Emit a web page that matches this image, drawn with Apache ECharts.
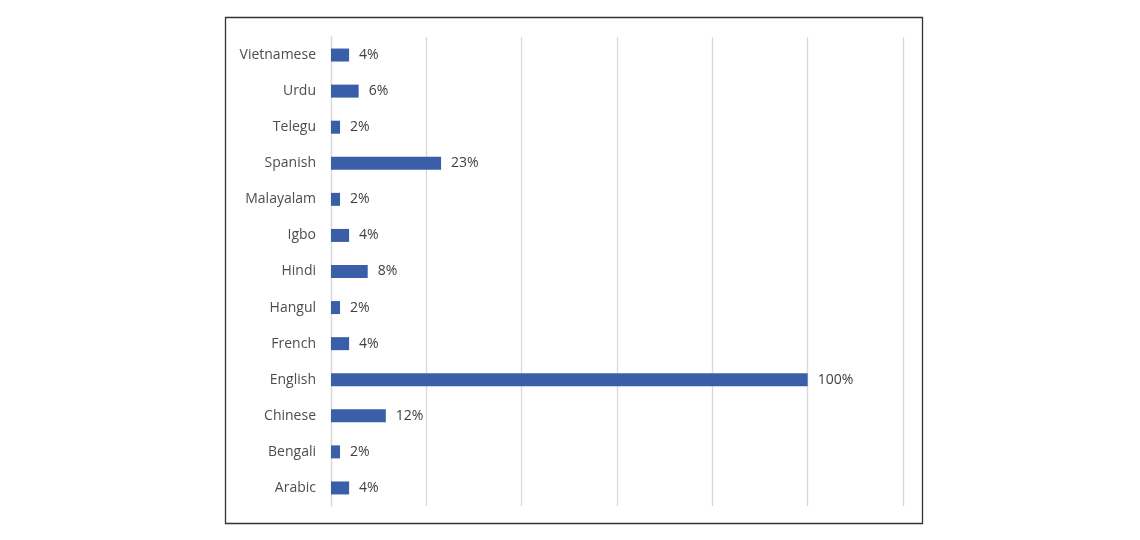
<!DOCTYPE html>
<html>
<head>
<meta charset="utf-8">
<script src="https://cdn.jsdelivr.net/npm/echarts@6.0.0/dist/echarts.min.js"></script>
<style>
  html, body { margin: 0; padding: 0; background: #fff; }
  #chart { width: 1140px; height: 540px; }
</style>
</head>
<body>
<div id="chart"></div>
<script>
// languages, bottom to top as drawn
const languages = ["Arabic", "Bengali", "Chinese", "English", "French", "Hangul",
  "Hindi", "Igbo", "Malayalam", "Spanish", "Telegu", "Urdu", "Vietnamese"];
// share relative to English
const shares = [0.038, 0.019, 0.115, 1.0, 0.038, 0.019,
  0.077, 0.038, 0.019, 0.231, 0.019, 0.058, 0.038];

const xMax = 1.2;
const xStep = 0.2;

const chart = echarts.init(document.getElementById("chart"));
chart.setOption({
  animation: false,
  textStyle: { fontFamily: "Open Sans" },
  graphic: [
    {
      type: "rect",
      shape: { x: 225.5, y: 17.5, width: 697, height: 506 },
      style: { fill: "none", stroke: "#333", lineWidth: 1.3 },
      z: 0,
    },
  ],
  grid: { left: 331, right: 237, top: 37, bottom: 34 },
  xAxis: {
    type: "value",
    min: 0,
    max: xMax,
    interval: xStep,
    axisLine: { show: false },
    axisTick: { show: false },
    axisLabel: { show: false },
    splitLine: { lineStyle: { color: "#d9d9d9", width: 1.3 } },
  },
  yAxis: {
    type: "category",
    data: languages,
    axisLine: { lineStyle: { color: "#d9d9d9", width: 1.3 } },
    axisTick: { length: 5, lineStyle: { color: "#d9d9d9", width: 1.3 } },
    axisLabel: { color: "#4d4d4d", fontSize: 14, margin: 15 },
  },
  series: [
    {
      type: "bar",
      data: shares,
      barWidth: 13,
      itemStyle: { color: "#3a5fa8" },
      label: {
        show: true,
        position: "right",
        distance: 10,
        color: "#404040",
        fontSize: 14,
        formatter: (p) => Math.round(p.value * 100) + "%",
      },
    },
  ],
});
</script>
</body>
</html>
